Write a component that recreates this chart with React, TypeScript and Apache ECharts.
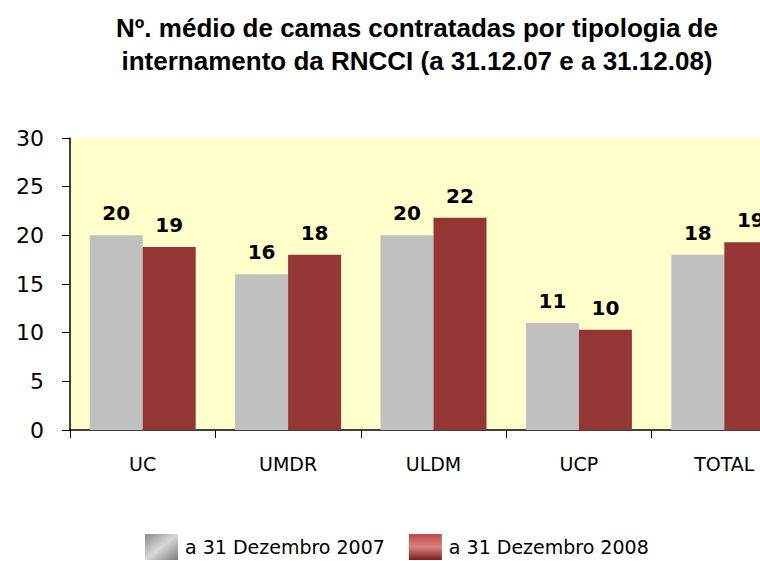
import React, { useEffect, useRef } from "react";
import * as echarts from "echarts";

const categories = ["UC", "UMDR", "ULDM", "UCP", "TOTAL"];
const series2007 = [20.0, 16.0, 20.0, 11.0, 18.0];
const series2008 = [18.8, 18.0, 21.8, 10.3, 19.3];
const seriesNames = ["a 31 Dezembro 2007", "a 31 Dezembro 2008"];
const titleLines = [
  "Nº. médio de camas contratadas por tipologia de",
  "internamento da RNCCI (a 31.12.07 e a 31.12.08)",
];

export default function App() {
  const ref = useRef<HTMLDivElement>(null);
  useEffect(() => {
    if (!ref.current) return;
    const chart = echarts.init(ref.current, null, { renderer: "svg" });
    const font = "'DejaVu Sans', Verdana, sans-serif";
    const label = {
      show: true,
      position: "top",
      distance: 12,
      fontFamily: font,
      fontWeight: "bold",
      fontSize: 20,
      color: "#000",
      formatter: (p: any) => String(Math.round(p.value)),
    };
    chart.setOption({
      animation: false,
      backgroundColor: "#ffffff",
      title: {
        text: titleLines.join("\n"),
        left: 412,
        top: 6,
        textAlign: "center",
        textStyle: {
          fontFamily: "'Liberation Sans', Arial, sans-serif",
          fontWeight: "bold",
          fontSize: 26,
          lineHeight: 33,
          color: "#000",
        },
      },
      legend: {
        bottom: -4,
        left: 140,
        itemWidth: 33,
        itemHeight: 26,
        itemGap: 24,
        textStyle: { fontFamily: font, fontSize: 19, color: "#000", padding: [0, 0, 0, 2] },
        data: [
          {
            name: seriesNames[0],
            icon: "rect",
            itemStyle: {
              color: new echarts.graphic.LinearGradient(0, 0, 1, 1, [
                { offset: 0, color: "#8a8a8a" },
                { offset: 0.5, color: "#d8d8d8" },
                { offset: 1, color: "#7a7a7a" },
              ]),
            },
          },
          {
            name: seriesNames[1],
            icon: "rect",
            itemStyle: {
              color: new echarts.graphic.LinearGradient(0, 0, 0, 1, [
                { offset: 0, color: "#c04a4a" },
                { offset: 0.5, color: "#d98080" },
                { offset: 1, color: "#7a1f1f" },
              ]),
            },
          },
        ],
      },
      grid: {
        left: 70,
        top: 138,
        width: 727,
        height: 292,
        show: true,
        backgroundColor: "#ffffcc",
        borderWidth: 0,
      },
      xAxis: {
        type: "category",
        data: categories,
        axisLine: { lineStyle: { color: "#000", width: 1.5 } },
        axisTick: { show: true, length: 8, lineStyle: { color: "#000" } },
        axisLabel: {
          margin: 24,
          fontFamily: font,
          fontSize: 19,
          color: "#000",
        },
      },
      yAxis: {
        type: "value",
        min: 0,
        max: 30,
        interval: 5,
        axisLine: { show: true, lineStyle: { color: "#000", width: 1.5 } },
        axisTick: { show: true, length: 8, lineStyle: { color: "#000" } },
        splitLine: { show: false },
        axisLabel: {
          margin: 26,
          fontFamily: font,
          fontSize: 22,
          color: "#000",
        },
      },
      series: [
        {
          name: seriesNames[0],
          type: "bar",
          data: series2007,
          barWidth: 53,
          barGap: "0%",
          itemStyle: { color: "#c0c0c0" },
          label,
        },
        {
          name: seriesNames[1],
          type: "bar",
          data: series2008,
          barWidth: 53,
          itemStyle: { color: "#943634" },
          label,
        },
      ],
    });
    return () => chart.dispose();
  }, []);
  return (
    <div
      style={{
        position: "absolute",
        left: 0,
        top: 0,
        width: 760,
        height: 561,
        overflow: "hidden",
      }}
    >
      <div ref={ref} style={{ width: 800, height: 561 }} />
    </div>
  );
}
